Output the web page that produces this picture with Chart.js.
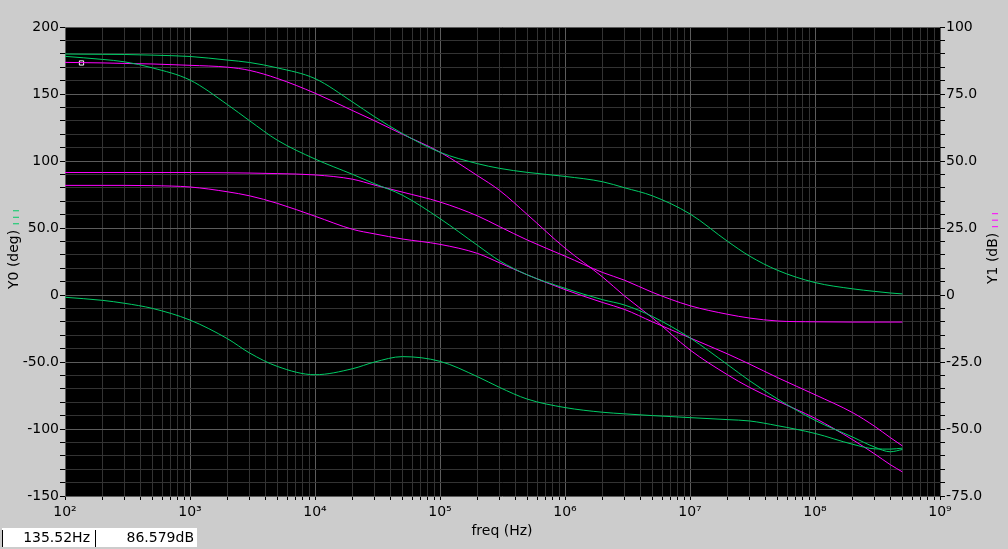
<!DOCTYPE html>
<html>
<head>
<meta charset="utf-8">
<title>AC response</title>
<script src="https://cdn.jsdelivr.net/npm/chart.js@4.4.1/dist/chart.umd.min.js"></script>
<style>
  html, body { margin: 0; padding: 0; background: #cccccc; }
  canvas { display: block; }
</style>
</head>
<body>
<canvas id="chart" width="1008" height="549"></canvas>
<script>
// Frequency points (Hz)
const freqHz = [100, 200, 300, 500, 1e3, 2e3, 3e3, 5e3, 1e4, 2e4, 3e4, 5e4, 1e5, 2e5, 3e5, 5e5,
  1e6, 2e6, 3e6, 5e6, 1e7, 2e7, 3e7, 5e7, 1e8, 2e8, 3e8, 4e8, 5e8];

// Phase curves, Y0 (deg)
const phaseA = [179.8, 179.6, 179.5, 179, 178, 175.3, 173.5, 169.5, 161.5, 144, 133, 120.5, 106.5, 98, 94.5, 91.5,
  88.5, 84.5, 80, 74, 60.5, 40, 29, 18.5, 9.3, 4.6, 2.7, 1.5, 0.8];
const phaseB = [178.1, 175.8, 174, 169.5, 160.4, 142, 130, 115.5, 101.5, 90, 83, 74.5, 57, 37, 25.5, 15,
  5, -3.5, -7.5, -16, -32, -52, -64, -77.5, -93.5, -106, -113.5, -117, -115.3];
const phaseC = [-1.7, -4, -6.2, -10, -18.7, -32.7, -43.3, -53.3, -59.5, -55, -50, -46, -49.5, -61, -69, -77.7,
  -84, -87.5, -88.7, -90, -91.5, -93, -94, -97.5, -103.3, -111.4, -114.8, -115, -114.3];

// Gain curves, Y1 (dB)
const gainA = [86.8, 86.6, 86.4, 86.2, 85.7, 85, 83.8, 80.8, 75.3, 68.8, 65, 60, 53.3, 44.5, 39, 30,
  17.5, 6.7, -0.4, -8.5, -20.5, -29.8, -34.5, -39.5, -46, -54, -59.3, -63.3, -66];
const gainB = [45.7, 45.7, 45.7, 45.7, 45.7, 45.6, 45.5, 45.3, 44.8, 43.2, 41, 38.4, 34.7, 29.5, 25.5, 20.5,
  14.5, 8.4, 5.5, 1, -4, -7.2, -8.6, -9.7, -10, -10.1, -10.1, -10.1, -10.1];
const gainC = [40.9, 40.9, 40.9, 40.8, 40.3, 38.5, 37, 34.2, 29.4, 24.5, 22.8, 20.9, 18.9, 15.5, 12, 7.5,
  2, -2.8, -5.4, -10, -16, -22, -25.8, -30.8, -37.2, -43.9, -49, -53.2, -56.3];

// Cursor readout
const cursorFreq = [135.52];
const cursorGain = [86.579];

// Tick labels
const degTickValues = [200, 150, 100, 50, 0, -50, -100, -150];
const degTickLabels = ['200', '150', '100', '50.0', '0', '-50.0', '-100', '-150'];
const dbTickValues = [100, 75, 50, 25, 0, -25, -50, -75];
const dbTickLabels = ['100', '75.0', '50.0', '25.0', '0', '-25.0', '-50.0', '-75.0'];
const decadeValues = [1e2, 1e3, 1e4, 1e5, 1e6, 1e7, 1e8, 1e9];
const decadeLabels = ['10²', '10³', '10⁴', '10⁵', '10⁶', '10⁷', '10⁸', '10⁹'];

const GREEN = '#00cc66';
const MAGENTA = '#ff00ff';
const GRID_MAJOR = '#5c5c5c';
const GRID_MINOR = '#333333';

Chart.defaults.font.family = '"DejaVu Sans", sans-serif';
Chart.defaults.font.size = 14;
Chart.defaults.color = '#000';

function toPoints(values) {
  return freqHz.map((f, i) => ({ x: f, y: values[i] }));
}

function curve(values, color, axis) {
  return {
    data: toPoints(values),
    borderColor: color,
    borderWidth: 1,
    pointRadius: 0,
    fill: false,
    cubicInterpolationMode: 'monotone',
    yAxisID: axis
  };
}

// Decade grid: 1..9 x 10^n
function logGridTicks() {
  const ticks = [];
  for (let e = 2; e < 9; e++) {
    for (let m = 1; m < 10; m++) ticks.push({ value: m * Math.pow(10, e) });
  }
  ticks.push({ value: 1e9 });
  return ticks;
}

function isDecade(v) {
  return decadeValues.some(d => Math.abs(v / d - 1) < 1e-9);
}

// Rotated axis title with three coloured trace marks after it
function drawVerticalTitle(ctx, text, markColor, x, yStart) {
  ctx.save();
  ctx.translate(x, yStart);
  ctx.rotate(-Math.PI / 2);
  ctx.textAlign = 'left';
  ctx.textBaseline = 'middle';
  ctx.fillStyle = '#000';
  ctx.fillText(text, 0, 0);
  const w = ctx.measureText(text).width + 6;
  ctx.strokeStyle = markColor;
  ctx.lineWidth = 1;
  for (let k = 0; k < 3; k++) {
    ctx.beginPath();
    ctx.moveTo(w + k * 6.5, -1);
    ctx.lineTo(w + k * 6.5, 5);
    ctx.stroke();
  }
  ctx.restore();
}

const decorations = {
  id: 'decorations',
  beforeDraw(chart) {
    const { ctx, chartArea: a } = chart;
    ctx.save();
    ctx.fillStyle = '#cccccc';
    ctx.fillRect(0, 0, chart.width, chart.height);
    ctx.fillStyle = '#000';
    ctx.fillRect(a.left, a.top, a.right - a.left, a.bottom - a.top);
    ctx.restore();
  },
  afterDraw(chart) {
    const ctx = chart.ctx;
    ctx.save();
    ctx.font = '14px "DejaVu Sans"';
    ctx.fillStyle = '#000';
    ctx.textAlign = 'center';
    ctx.textBaseline = 'middle';
    ctx.fillText('freq (Hz)', 502, 531);

    drawVerticalTitle(ctx, 'Y0 (deg)', GREEN, 14, 289);
    drawVerticalTitle(ctx, 'Y1 (dB)', MAGENTA, 993, 284);

    // cursor readout boxes
    ctx.fillStyle = '#fff';
    ctx.fillRect(2, 528, 195, 19);
    ctx.strokeStyle = '#000';
    ctx.beginPath();
    ctx.moveTo(2.5, 530); ctx.lineTo(2.5, 547);
    ctx.moveTo(95.5, 530); ctx.lineTo(95.5, 547);
    ctx.stroke();
    ctx.fillStyle = '#000';
    ctx.textAlign = 'right';
    ctx.textBaseline = 'alphabetic';
    ctx.fillText(cursorFreq[0].toFixed(2) + 'Hz', 90, 542);
    ctx.fillText(cursorGain[0].toFixed(3) + 'dB', 194, 542);
    ctx.restore();
  }
};

const datasets = [
  curve(phaseA, GREEN, 'yDeg'),
  curve(phaseB, GREEN, 'yDeg'),
  curve(phaseC, GREEN, 'yDeg'),
  curve(gainA, MAGENTA, 'yDb'),
  curve(gainB, MAGENTA, 'yDb'),
  curve(gainC, MAGENTA, 'yDb'),
  {
    data: cursorFreq.map((f, i) => ({ x: f, y: cursorGain[i] })),
    showLine: false,
    pointStyle: 'rect',
    pointRadius: 3,
    pointBorderWidth: 1,
    pointBorderColor: '#fff',
    pointBackgroundColor: '#000',
    yAxisID: 'yDb'
  }
];

new Chart(document.getElementById('chart'), {
  type: 'line',
  data: { datasets },
  options: {
    responsive: false,
    devicePixelRatio: 1,
    animation: false,
    events: [],
    layout: { padding: { top: 27, left: 0, right: 0, bottom: 0 } },
    plugins: {
      legend: { display: false },
      tooltip: { enabled: false }
    },
    scales: {
      x: {
        type: 'logarithmic',
        min: 100,
        max: 1e9,
        afterBuildTicks: scale => { scale.ticks = logGridTicks(); },
        afterFit: scale => { scale.height = 53; },
        border: { display: false },
        grid: {
          color: ctx => isDecade(ctx.tick.value) ? GRID_MAJOR : GRID_MINOR,
          tickColor: '#000',
          tickLength: 4
        },
        ticks: {
          autoSkip: false,
          maxRotation: 0,
          padding: 4,
          callback: value => {
            const i = decadeValues.findIndex(d => Math.abs(value / d - 1) < 1e-9);
            return i >= 0 ? decadeLabels[i] : '';
          }
        }
      },
      yDeg: {
        position: 'left',
        min: -150,
        max: 200,
        afterFit: scale => { scale.width = 65; },
        border: { display: false },
        grid: {
          color: ctx => degTickValues.includes(ctx.tick.value) ? GRID_MAJOR : GRID_MINOR,
          tickColor: '#000',
          tickLength: 5
        },
        ticks: {
          stepSize: 10,
          autoSkip: false,
          padding: 1,
          callback: value => {
            const i = degTickValues.indexOf(value);
            return i >= 0 ? degTickLabels[i] : '';
          }
        }
      },
      yDb: {
        position: 'right',
        min: -75,
        max: 100,
        afterFit: scale => { scale.width = 68; },
        border: { display: false },
        grid: {
          drawOnChartArea: false,
          tickColor: '#000',
          tickLength: 5
        },
        ticks: {
          stepSize: 5,
          autoSkip: false,
          padding: 1,
          callback: value => {
            const i = dbTickValues.indexOf(value);
            return i >= 0 ? dbTickLabels[i] : '';
          }
        }
      }
    }
  },
  plugins: [decorations]
});
</script>
</body>
</html>
